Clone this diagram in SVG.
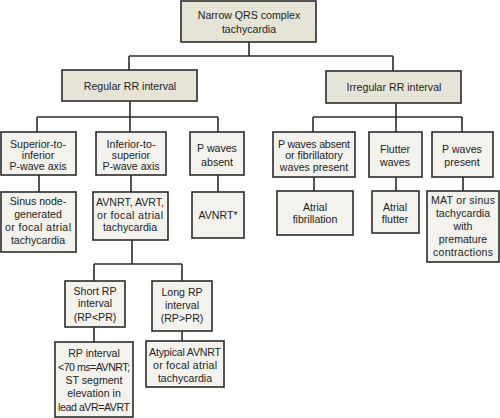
<svg xmlns="http://www.w3.org/2000/svg" width="500" height="418" viewBox="0 0 500 418">
<style>
.b1{fill:#e6e4d7;stroke:#2b2b2b;stroke-width:1.6}
.b2{fill:#f3f2ec;stroke:#2b2b2b;stroke-width:1.6}
.c{fill:none;stroke:#2b2b2b;stroke-width:1.6}
text{font-family:"Liberation Sans",Arial,sans-serif;font-size:10.6px;fill:#222;text-anchor:middle}
</style>
<rect width="500" height="418" fill="#fff"/>
<g id="connectors">
<path class="c" d="M249 42V56M129 56H393M129 56V70M393 56V71"/>
<path class="c" d="M130 101V117M37 117H218M37 117V132M130 117V132M218 117V132"/>
<path class="c" d="M396 103V117M313 117H462M313 117V132M396 117V132M462 117V132"/>
<path class="c" d="M39 175V192M131 175V192M218 175V192"/>
<path class="c" d="M314 177V191M396 177V191M463 177V191"/>
<path class="c" d="M132 240V264M94 264H182M94 264V281M182 264V281"/>
<path class="c" d="M94 327V342M182 331V341"/>
</g>
<g id="n_root"><rect class="b1" x="181" y="1" width="135" height="41"/><text x="249" y="19">Narrow QRS complex</text><text x="249" y="33">tachycardia</text></g>
<g id="n_regular"><rect class="b1" x="62" y="70" width="135" height="31"/><text x="130" y="90">Regular RR interval</text></g>
<g id="n_irregular"><rect class="b1" x="326" y="71" width="135" height="32"/><text x="394" y="91">Irregular RR interval</text></g>
<g id="n_sup"><rect class="b2" x="1" y="132" width="75" height="43"/><text x="38" y="148">Superior-to-</text><text x="38" y="159">inferior</text><text x="38" y="170">P-wave axis</text></g>
<g id="n_inf"><rect class="b2" x="96" y="132" width="70" height="43"/><text x="131" y="148">Inferior-to-</text><text x="131" y="159">superior</text><text x="131" y="170">P-wave axis</text></g>
<g id="n_pabs"><rect class="b2" x="190" y="132" width="54" height="43"/><text x="217" y="152">P waves</text><text x="217" y="166">absent</text></g>
<g id="n_sinus"><rect class="b2" x="1" y="192" width="75" height="60"/><text x="38" y="205">Sinus node-</text><text x="38" y="218">generated</text><text x="38" y="231" textLength="66">or focal atrial</text><text x="38" y="244">tachycardia</text></g>
<g id="n_avnrt_avrt"><rect class="b2" x="93" y="192" width="75" height="48"/><text x="130" y="206">AVNRT, AVRT,</text><text x="130" y="219" textLength="66">or focal atrial</text><text x="130" y="231">tachycardia</text></g>
<g id="n_avnrt_star"><rect class="b2" x="192" y="192" width="52" height="46"/><text x="218" y="219">AVNRT*</text></g>
<g id="n_fib_w"><rect class="b2" x="273" y="132" width="82" height="45"/><text x="314" y="148" textLength="72">P waves absent</text><text x="314" y="159">or fibrillatory</text><text x="314" y="171">waves present</text></g>
<g id="n_flut_w"><rect class="b2" x="369" y="132" width="53" height="45"/><text x="395" y="153">Flutter</text><text x="395" y="166">waves</text></g>
<g id="n_ppres"><rect class="b2" x="432" y="132" width="61" height="45"/><text x="462" y="153">P waves</text><text x="462" y="166">present</text></g>
<g id="n_afib"><rect class="b2" x="277" y="191" width="76" height="44"/><text x="315" y="211">Atrial</text><text x="315" y="223">fibrillation</text></g>
<g id="n_aflut"><rect class="b2" x="372" y="191" width="47" height="42"/><text x="395" y="211">Atrial</text><text x="395" y="223">flutter</text></g>
<g id="n_mat"><rect class="b2" x="427" y="191" width="72" height="71"/><text x="463" y="204" textLength="64">MAT or sinus</text><text x="463" y="217">tachycardia</text><text x="463" y="230">with</text><text x="463" y="243">premature</text><text x="463" y="256" textLength="60">contractions</text></g>
<g id="n_short"><rect class="b2" x="65" y="281" width="60" height="46"/><text x="95" y="295">Short RP</text><text x="95" y="307">interval</text><text x="95" y="321">(RP&lt;PR)</text></g>
<g id="n_long"><rect class="b2" x="152" y="281" width="60" height="50"/><text x="182" y="296">Long RP</text><text x="182" y="309">interval</text><text x="182" y="322">(RP&gt;PR)</text></g>
<g id="n_rpint"><rect class="b2" x="55" y="342" width="78" height="75"/><text x="94" y="357">RP interval</text><text x="94" y="371" textLength="72">&lt;70 ms=AVNRT;</text><text x="94" y="384">ST segment</text><text x="94" y="397">elevation in</text><text x="94" y="411" textLength="72">lead aVR=AVRT</text></g>
<g id="n_atyp"><rect class="b2" x="146" y="341" width="78" height="46"/><text x="185" y="356" textLength="72">Atypical AVNRT</text><text x="185" y="369" textLength="64">or focal atrial</text><text x="185" y="382">tachycardia</text></g>
</svg>
